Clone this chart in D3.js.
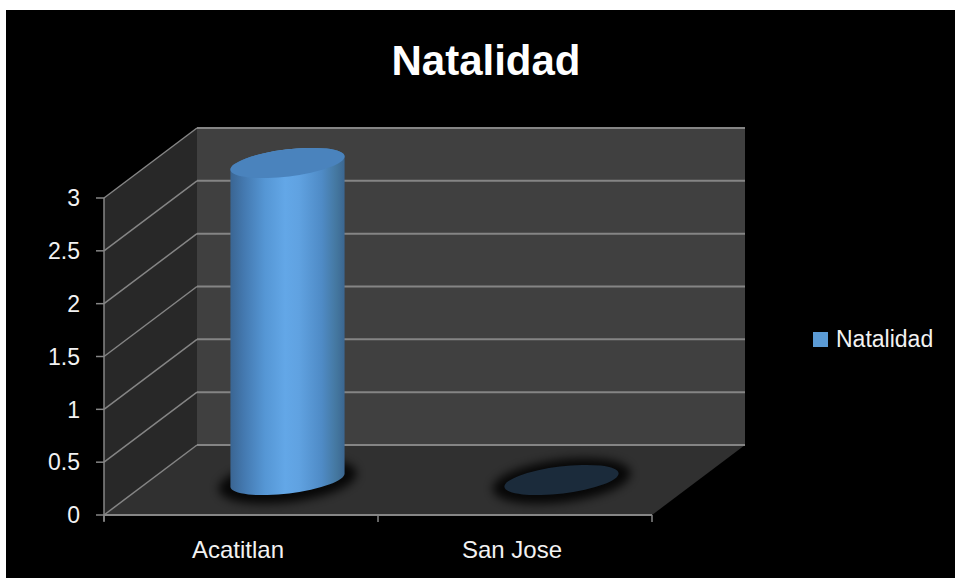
<!DOCTYPE html>
<html>
<head>
<meta charset="utf-8">
<script src="https://cdn.jsdelivr.net/npm/d3@7"></script>
<style>
  html, body { margin: 0; padding: 0; background: #ffffff; }
  svg { display: block; }
</style>
</head>
<body>
<svg id="chart" width="955" height="578"></svg>
<script>
// ---- data ----
const title = "Natalidad";
const seriesName = "Natalidad";
const categories = ["Acatitlan", "San Jose"];
const values = [3, 0];
const yTicks = [0, 0.5, 1, 1.5, 2, 2.5, 3];
const yTickLabels = ["0", "0.5", "1", "1.5", "2", "2.5", "3"];

// ---- layout ----
const svg = d3.select("#chart");
const W = 955, H = 578;
const font = "'Liberation Sans', Arial, sans-serif";

const depthX = 93, depthY = -70;            // 3D depth offset
const x = d3.scaleBand().domain(categories).range([104, 652]);
const y = d3.scaleLinear().domain([0, 3]).range([515, 198]);

const defs = svg.append("defs");

// cylinder gradient
const grad = defs.append("linearGradient").attr("id", "cyl").attr("x1", "0").attr("x2", "1").attr("y1", "0").attr("y2", "0");
[["0%", "#3a6592"], ["12%", "#4479b0"], ["30%", "#5596d4"], ["48%", "#63a7e7"], ["60%", "#60a2e1"], ["80%", "#4f8bc6"], ["93%", "#44779f"], ["100%", "#3b6691"]]
  .forEach(([o, c]) => grad.append("stop").attr("offset", o).attr("stop-color", c));

const blur = defs.append("filter").attr("id", "blur").attr("x", "-30%").attr("y", "-80%").attr("width", "160%").attr("height", "260%");
blur.append("feGaussianBlur").attr("stdDeviation", 5);

// background
svg.append("rect").attr("x", 6).attr("y", 10).attr("width", W - 6).attr("height", H - 10).attr("fill", "#000");

// title
svg.append("text").attr("x", 486).attr("y", 75).attr("text-anchor", "middle")
  .attr("font-family", font).attr("font-weight", "bold").attr("font-size", 42).attr("fill", "#ffffff").text(title);

const x0 = x.range()[0], x1 = x.range()[1];
const yTop = y(3), yBot = y(0);

// walls
const line = d3.line();
svg.append("path").attr("fill", "#282828")
  .attr("d", line([[x0, yBot], [x0 + depthX, yBot + depthY], [x0 + depthX, yTop + depthY], [x0, yTop]]) + "Z");
svg.append("path").attr("fill", "#404040")
  .attr("d", line([[x0 + depthX, yBot + depthY], [x1 + depthX, yBot + depthY], [x1 + depthX, yTop + depthY], [x0 + depthX, yTop + depthY]]) + "Z");
svg.append("path").attr("fill", "#303030")
  .attr("d", line([[x0, yBot], [x1, yBot], [x1 + depthX, yBot + depthY], [x0 + depthX, yBot + depthY]]) + "Z");

// gridlines
const gridColor = "#858585";
yTicks.forEach(t => {
  svg.append("line").attr("x1", x0 + depthX).attr("x2", x1 + depthX)
    .attr("y1", y(t) + depthY).attr("y2", y(t) + depthY)
    .attr("stroke", gridColor).attr("stroke-width", 2);
  svg.append("line").attr("x1", x0).attr("x2", x0 + depthX)
    .attr("y1", y(t)).attr("y2", y(t) + depthY)
    .attr("stroke", gridColor).attr("stroke-width", 1.5);
});

// axes
const axisColor = "#868686";
svg.append("line").attr("x1", x0).attr("x2", x0).attr("y1", yTop).attr("y2", yBot + 6).attr("stroke", axisColor).attr("stroke-width", 1.5);
svg.append("line").attr("x1", x0).attr("x2", x1).attr("y1", yBot).attr("y2", yBot).attr("stroke", axisColor).attr("stroke-width", 2);
yTicks.forEach((t, i) => {
  svg.append("line").attr("x1", x0 - 8).attr("x2", x0).attr("y1", y(t)).attr("y2", y(t)).attr("stroke", axisColor).attr("stroke-width", 1.5);
  svg.append("text").attr("x", 80).attr("y", y(t)).attr("dy", "0.36em").attr("text-anchor", "end")
    .attr("font-family", font).attr("font-size", 23).attr("fill", "#f2f2f2").text(yTickLabels[i]);
});
const catEdges = [x0].concat(categories.map(c => x(c) + x.bandwidth()));
catEdges.forEach(e => {
  svg.append("line").attr("x1", e).attr("x2", e).attr("y1", yBot).attr("y2", yBot + 7).attr("stroke", axisColor).attr("stroke-width", 1.5);
});
categories.forEach(c => {
  svg.append("text").attr("x", x(c) + x.bandwidth() / 2 - 3).attr("y", 558).attr("text-anchor", "middle")
    .attr("font-family", font).attr("font-size", 24).attr("fill", "#f2f2f2").text(c);
});

// cylinders
const rx = 57.5, ry = 13.5, rot = -7;
const rad = rot * Math.PI / 180;
categories.forEach((c, i) => {
  const v = values[i];
  const cx = x(c) + x.bandwidth() / 2 + depthX / 2;
  const cyB = y(0) + depthY / 2;
  const cyT = y(v) + depthY / 2;
  const g = svg.append("g");
  // shadow
  g.append("ellipse").attr("cx", cx).attr("cy", cyB + 1).attr("rx", rx + 12).attr("ry", ry + 8)
    .attr("transform", `rotate(${rot},${cx},${cyB})`).attr("fill", "#000").attr("opacity", 0.85).attr("filter", "url(#blur)");
  if (v > 0) {
    const ex = rx * Math.cos(rad), ey = rx * Math.sin(rad);
    const p = `M${cx - ex},${cyT - ey} L${cx - ex},${cyB - ey} A${rx},${ry} ${rot} 0 0 ${cx + ex},${cyB + ey} L${cx + ex},${cyT + ey} A${rx},${ry} ${rot} 0 0 ${cx - ex},${cyT - ey} Z`;
    g.append("path").attr("d", p).attr("fill", "url(#cyl)");
    g.append("ellipse").attr("cx", cx).attr("cy", cyT).attr("rx", rx).attr("ry", ry)
      .attr("transform", `rotate(${rot},${cx},${cyT})`).attr("fill", "#4a83bd");
  } else {
    g.append("ellipse").attr("cx", cx).attr("cy", cyT).attr("rx", rx).attr("ry", ry)
      .attr("transform", `rotate(${rot},${cx},${cyT})`).attr("fill", "#1b2b3b");
  }
});

// legend
svg.append("rect").attr("x", 813).attr("y", 332).attr("width", 15).attr("height", 15).attr("fill", "#5b9bd5");
svg.append("text").attr("x", 836).attr("y", 347).attr("font-family", font).attr("font-size", 23).attr("fill", "#f2f2f2").text(seriesName);
</script>
</body>
</html>
